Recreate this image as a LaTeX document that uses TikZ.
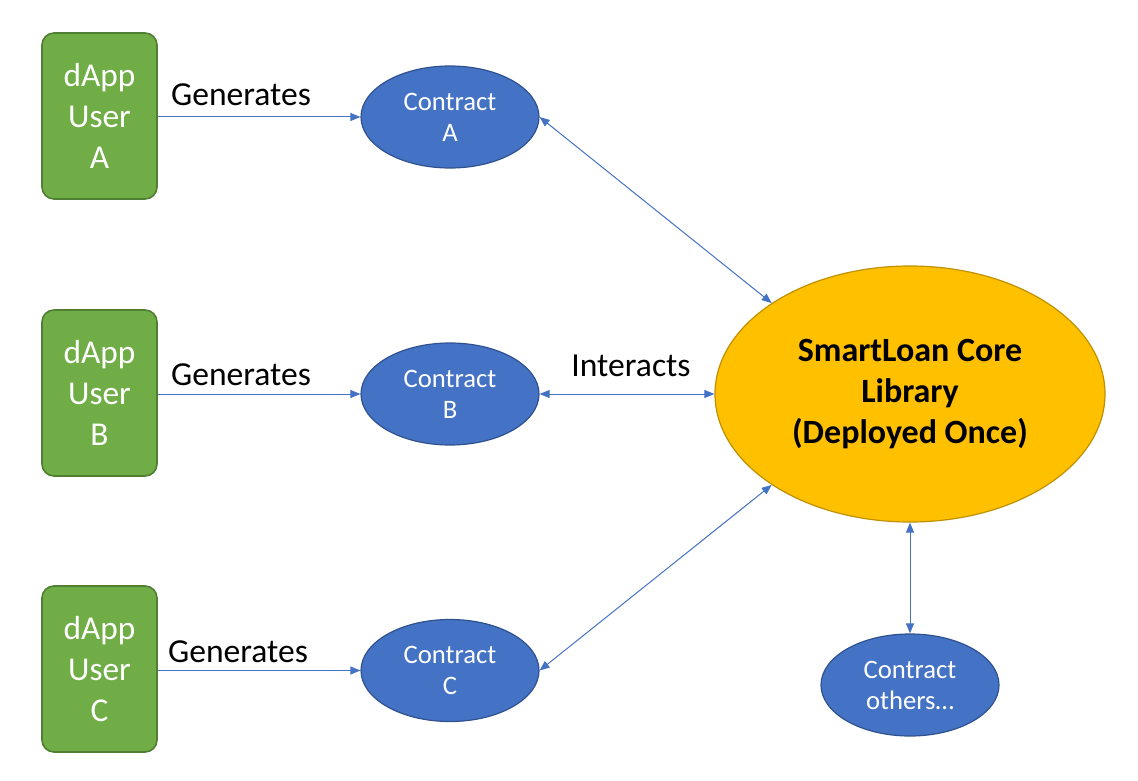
\documentclass[tikz,border=0pt]{standalone}
\usepackage{fontspec}
\setmainfont{Carlito}
\usetikzlibrary{shapes.geometric,arrows.meta}
\definecolor{ugreen}{HTML}{70AD47}
\definecolor{ugreenb}{HTML}{507E32}
\definecolor{cblue}{HTML}{4472C4}
\definecolor{cblueb}{HTML}{2F528F}
\definecolor{corey}{HTML}{FFC000}
\definecolor{coreb}{HTML}{BF9000}
\tikzset{
  userbox/.style={draw=ugreenb, line width=1.2pt, fill=ugreen, rounded corners=9pt,
    minimum width=86.25pt, minimum height=124.5pt, inner sep=0pt, align=center,
    text=white, font=\fontsize{25}{30.75}\selectfont},
  contract/.style={ellipse, draw=cblueb, line width=0.9pt, fill=cblue,
    minimum width=133.5pt, minimum height=76.5pt, inner sep=0pt, align=center,
    text=white, font=\fontsize{20}{23.25}\selectfont},
  core/.style={ellipse, draw=coreb, line width=0.9pt, fill=corey,
    minimum width=292.5pt, minimum height=192pt, inner sep=0pt, align=center,
    font=\fontsize{25.5}{30.75}\selectfont\bfseries},
  lbl/.style={inner sep=0pt, font=\fontsize{25.2}{28}\selectfont},
  link/.style={draw=cblue, line width=0.75pt, -{Triangle[length=7.5pt,width=6pt]}},
  blink/.style={draw=cblue, line width=0.75pt, {Triangle[length=7.5pt,width=6pt]}-{Triangle[length=7.5pt,width=6pt]}}
}
\begin{document}
\begin{tikzpicture}[x=0.75pt,y=-0.75pt]
\useasboundingbox (0,0) rectangle (1138,781);
\node[userbox] (ua) at (99.5,116) {dApp\\User\\A};
\node[userbox] (ub) at (99.5,393) {dApp\\User\\B};
\node[userbox] (uc) at (99.5,669) {dApp\\User\\C};
\node[contract] (ca) at (450,117) {Contract\\A};
\node[contract] (cb) at (450,394) {Contract\\B};
\node[contract] (cc) at (450,670.5) {Contract\\C};
\node[contract] (co) at (910,685) {Contract\\others…};
\node[core] (core) at (910,394) {SmartLoan Core\\Library\\(Deployed Once)};
\draw[link] (ua.east |- ca.west) -- (ca.west);
\draw[link] (ub.east |- cb.west) -- (cb.west);
\draw[link] (uc.east |- cc.west) -- (cc.west);
\node[lbl] (ga) at (241,95) {Generates};
\node[lbl] (gb) at (241,375) {Generates};
\node[lbl] (gc) at (238,652) {Generates};
\node[lbl] (ia) at (631,366) {Interacts};
\draw[blink] (ca.east) -- (core.north west);
\draw[blink] (cb.east) -- (core.west);
\draw[blink] (cc.east) -- (core.south west);
\draw[blink] (core.south) -- (co.north);
\end{tikzpicture}
\end{document}
